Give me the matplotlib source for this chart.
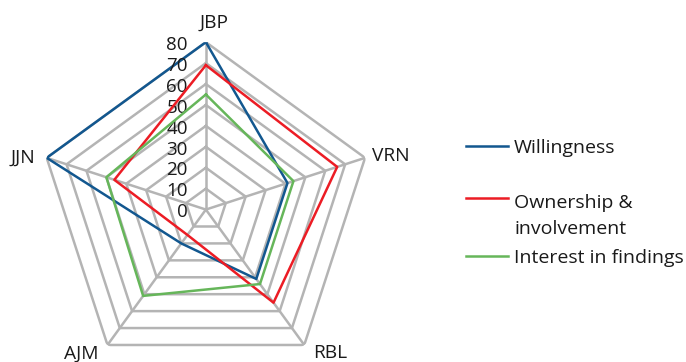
import matplotlib.pyplot as plt
from matplotlib.lines import Line2D
import numpy as np

plt.rcParams['font.family'] = ['Open Sans', 'DejaVu Sans']

# sites around the radar, clockwise from the top
sites = ["JBP", "VRN", "RBL", "AJM", "JJN"]
willingness = [80, 41, 41, 20, 80]
ownership = [69, 66, 55, 15, 46]
interest = [55, 44, 44, 51, 50]
ring_values = [10, 20, 30, 40, 50, 60, 70, 80]
tick_labels = ["0", "10", "20", "30", "40", "50", "60", "70", "80"]

series = [
    ("Willingness", willingness, "#12578f"),
    ("Ownership &\ninvolvement", ownership, "#ec1c24"),
    ("Interest in findings", interest, "#66b65a"),
]

grid_col = "#b4b4b4"
n = len(sites)
angles = np.linspace(0, 2 * np.pi, n, endpoint=False)
closed = np.append(angles, angles[0])

fig = plt.figure(figsize=(6.86, 3.62), dpi=100)
ax = fig.add_axes([0.0561, -0.0414, 0.488, 0.925], projection="polar")
ax.set_theta_offset(np.pi / 2)
ax.set_theta_direction(-1)
ax.set_ylim(0, 80)
ax.grid(False)
ax.spines["polar"].set_visible(False)
ax.set_xticks([])
ax.set_yticks([])
ax.patch.set_alpha(0)

# pentagon rings and spokes
for v in ring_values:
    ax.plot(closed, [v] * (n + 1), color=grid_col, lw=1.8, zorder=1)
for a in angles:
    ax.plot([a, a], [0, 80], color=grid_col, lw=1.8, zorder=1)

for i, (name, vals, col) in enumerate(series):
    ax.plot(closed, vals + vals[:1], color=col, lw=1.8, zorder=3 + i)

# value scale along the top spoke
for v, lab in zip([0] + ring_values, tick_labels):
    ax.annotate(lab, (0, v), xytext=(-13, -2), textcoords="offset points",
                ha="right", va="center", fontsize=13.5, color="#1a1a1a")

label_offsets = {
    "JBP": ((6, 14), "center"),
    "VRN": ((5, 1.5), "left"),
    "RBL": ((19, -6), "center"),
    "AJM": ((-19, -6), "center"),
    "JJN": ((-8.5, 0), "right"),
}
for a, s in zip(angles, sites):
    off, ha = label_offsets[s]
    ax.annotate(s, (a, 80), xytext=off, textcoords="offset points",
                ha=ha, va="center", fontsize=13.8, color="#1a1a1a")

# legend on the right: handle y, then baseline of each text line
W, H = 686, 362
legend_rows = [(146, [153]), (198, [208, 233.5]), (256, [263])]
for (name, vals, col), (y, baselines) in zip(series, legend_rows):
    fig.add_artist(Line2D([466 / W, 508 / W], [1 - y / H, 1 - y / H],
                          color=col, lw=1.8))
    for line, b in zip(name.split("\n"), baselines):
        fig.text(514 / W, 1 - b / H, line, ha="left", va="baseline",
                 fontsize=14.0, color="#1a1a1a")

fig.savefig("out.png", dpi=100)
